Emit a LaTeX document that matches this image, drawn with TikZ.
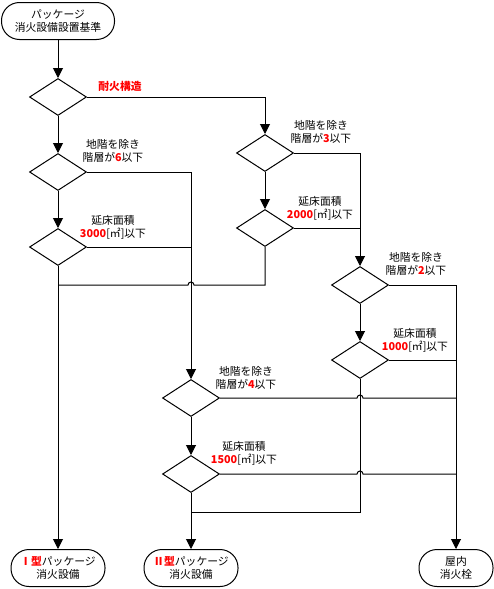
\documentclass[tikz,border=0pt]{standalone}
\usepackage{fontspec}
\setmainfont{Noto Sans CJK JP}
\usetikzlibrary{shapes.geometric, arrows.meta}

\newcommand{\rednum}[1]{\textcolor{red}{\bfseries #1}}

\begin{document}
\begin{tikzpicture}[x = 1pt, y = -1pt, line width = 1pt,
  every node/.style = {font = \fontsize{10.8}{12.8}\selectfont, align = center},
  term/.style = {draw, rounded corners = 18pt, minimum height = 37pt, inner sep = 0pt},
  cond/.style = {draw, diamond, minimum width = 57pt, minimum height = 37pt, inner sep = 0pt},
  arr/.style = {-{Triangle[width = 10pt, length = 10pt]}}]

\useasboundingbox (0, 0) rectangle (494, 589);

\node[term, minimum width = 113pt] (start) at (58, 21) {パッケージ\\消火設備設置基準};

\node[cond] (taika) at (58, 97) {};
\node[cond] (kai6) at (58, 172) {};
\node[cond] (men3000) at (58, 247) {};

\node[cond] (kai3) at (265, 153) {};
\node[cond] (men2000) at (265, 228) {};

\node[cond] (kai2) at (360, 285) {};
\node[cond] (men1000) at (360, 360) {};

\node[cond] (kai4) at (191, 398) {};
\node[cond] (men1500) at (191, 474) {};

\node[term, minimum width = 94pt] (type1) at (58, 568) {\rednum{Ⅰ型}パッケージ\\消火設備};
\node[term, minimum width = 94pt] (type2) at (191, 568) {\rednum{Ⅱ型}パッケージ\\消火設備};
\node[term, minimum width = 74pt] (okunai) at (456, 568) {屋内\\消火栓};

\node (lbtaika) at (120, 86) {\rednum{耐火構造}};
\node (lbkai6) at (113, 151) {地階を除き\\階層が\rednum{6}以下};
\node (lbmen3000) at (113, 227) {延床面積\\\rednum{3000}[㎡]以下};
\node (lbkai3) at (321, 132) {地階を除き\\階層が\rednum{3}以下};
\node (lbmen2000) at (320, 208) {延床面積\\\rednum{2000}[㎡]以下};
\node (lbkai2) at (416, 264) {地階を除き\\階層が\rednum{2}以下};
\node (lbmen1000) at (415, 340) {延床面積\\\rednum{1000}[㎡]以下};
\node (lbkai4) at (246, 378) {地階を除き\\階層が\rednum{4}以下};
\node (lbmen1500) at (244, 453) {延床面積\\\rednum{1500}[㎡]以下};

\coordinate (merge) at (191, 512);

\draw[arr] (start) -- (taika);
\draw[arr] (taika) -- (kai6);
\draw[arr] (kai6) -- (men3000);
\draw[arr] (men3000) -- (type1);

\draw[arr] (taika.east) -| (kai3.north);
\draw[arr] (kai3) -- (men2000);
\draw (men2000.south) -- (men2000 |- kai2) -- ([xshift = 3pt] kai4 |- kai2) arc [start angle = 0, end angle = 180, radius = 3pt] -- (men3000 |- kai2);

\draw[arr] (kai6.east) -| (kai4.north);
\draw (men3000.east) -- (men3000 -| kai4);

\draw[arr] (kai3.east) -| (kai2.north);
\draw (men2000.east) -- (men2000 -| kai2);

\draw[arr] (kai2.east) -| (okunai.north);
\draw[arr] (kai2) -- (men1000);
\draw (men1000.east) -- (men1000 -| okunai);
\draw (men1000.south) -- (men1000 |- merge) -- (merge);

\draw[arr] (kai4) -- (men1500);
\draw (kai4.east) -- ([xshift = -3pt] men1000 |- kai4) arc [start angle = 180, end angle = 0, radius = 3pt] -- (okunai |- kai4);
\draw (men1500.east) -- ([xshift = -3pt] men1000 |- men1500) arc [start angle = 180, end angle = 0, radius = 3pt] -- (okunai |- men1500);
\draw[arr] (men1500) -- (type2);

\end{tikzpicture}
\end{document}
